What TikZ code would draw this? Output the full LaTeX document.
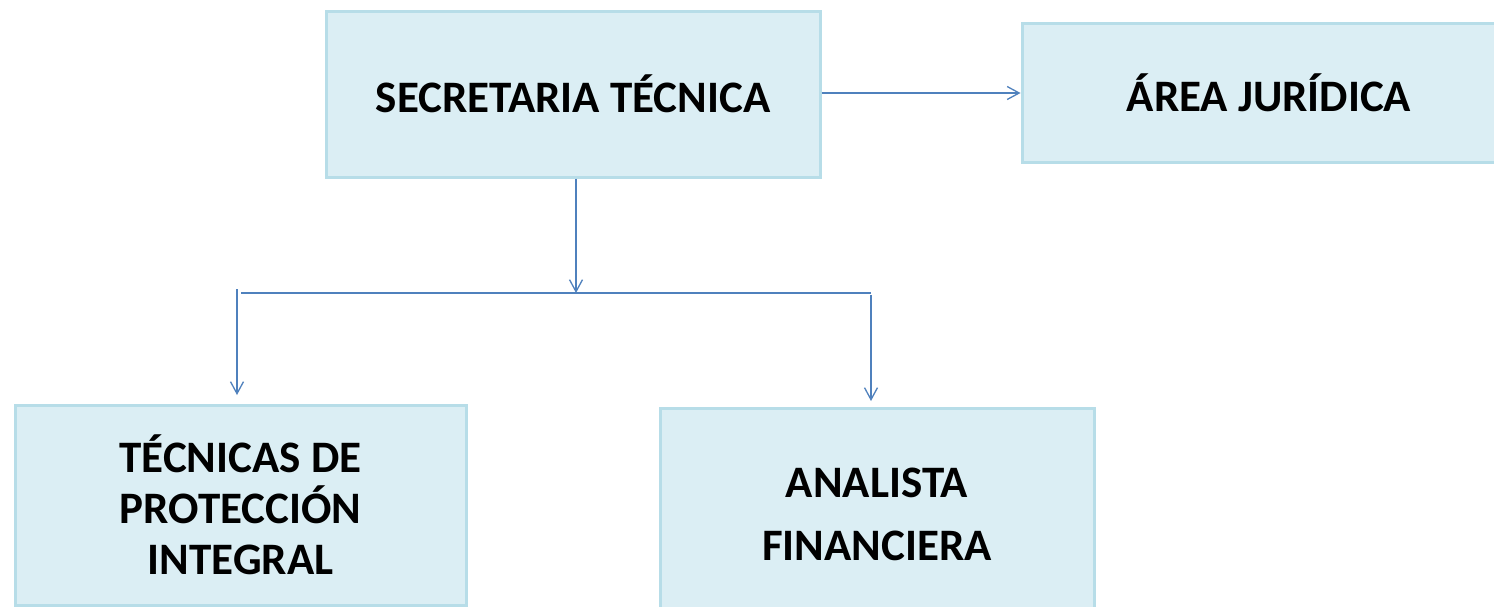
\documentclass[tikz,border=0pt]{standalone}
\usepackage{fontspec}
\setmainfont{Carlito}
\usetikzlibrary{arrows.meta}
\definecolor{boxfill}{HTML}{DBEEF4}
\definecolor{boxline}{HTML}{B7DDE8}
\definecolor{arrowc}{HTML}{4F81BD}
\tikzset{
  orgbox/.style={draw=boxline, fill=boxfill, line width=3pt, rectangle, inner sep=0pt, align=center, font=\bfseries\fontsize{45}{51}\selectfont},
  conn/.style={draw=arrowc, line width=1.5pt},
  arr/.style={conn, -{Straight Barb[length=12pt,width=13pt,line width=1.3pt]}}
}
\begin{document}
\begin{tikzpicture}[x=1pt,y=-1pt]
\useasboundingbox (0,0) rectangle (1494,606);
\clip (0,0) rectangle (1494,606);
\fill[white] (0,0) rectangle (1494,606);
\node[orgbox, minimum width=494pt, minimum height=166pt] (sec) at (573,94) {SECRETARIA TÉCNICA};
\node[orgbox, minimum width=494pt, minimum height=139pt] (jur) at (1269,92.5) {ÁREA JURÍDICA};
\node[orgbox, minimum width=451pt, minimum height=200pt] (tec) at (240.5,505) {TÉCNICAS DE\\PROTECCIÓN\\INTEGRAL};
\node[orgbox, minimum width=434pt, minimum height=213pt, font=\bfseries\fontsize{45}{63}\selectfont] (ana) at (877,514.5) {ANALISTA\\FINANCIERA};
\coordinate (hub) at (576,293);
\coordinate (hl) at (241,293);
\coordinate (hr) at (871,293);
\coordinate (ltop) at (237,289);
\coordinate (lend) at (237,395);
\coordinate (rtop) at (871,295);
\coordinate (rend) at (871,401);
\draw[arr] (sec.east |- 0,93) -- (jur.west |- 0,93);
\draw[arr] (sec.south -| hub) -- (hub);
\draw[conn] (hl) -- (hr);
\draw[arr] (ltop) -- (lend);
\draw[arr] (rtop) -- (rend);
\end{tikzpicture}
\end{document}
